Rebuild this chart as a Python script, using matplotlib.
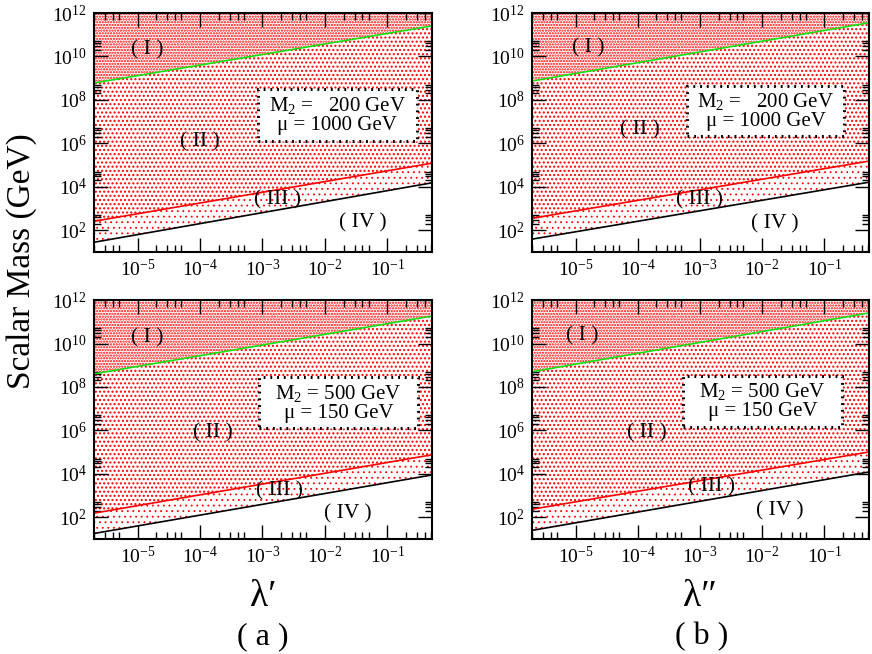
import matplotlib
matplotlib.use('Agg')
import matplotlib.pyplot as plt
from matplotlib.ticker import FixedLocator, NullFormatter, LogFormatterSciNotation
from matplotlib.patches import Rectangle

plt.rcParams['font.family'] = ['Liberation Serif', 'DejaVu Serif']
plt.rcParams['mathtext.fontset'] = 'custom'
plt.rcParams['mathtext.rm'] = 'Liberation Serif'
plt.rcParams['mathtext.it'] = 'Liberation Serif:italic'
plt.rcParams['mathtext.bf'] = 'Liberation Serif:bold'

# lambda range spanned by the boundary lines
lam = [2e-6, 0.5]
mass_top = 1e12

# boundary lines (scalar mass at both ends of lam), one set per panel
# (a) lambda', M2 = 200, mu = 1000
green_a1 = [6e8, 2.5e11]
red_a1 = [260, 1.2e5]
black_a1 = [28, 1.5e4]
# (b) lambda'', M2 = 200, mu = 1000
green_b1 = [7.4e8, 3.5e11]
red_b1 = [355, 1.5e5]
black_b1 = [39, 1.6e4]
# (a) lambda', M2 = 500, mu = 150
green_a2 = [4e8, 1.8e11]
red_a2 = [155, 7.4e4]
black_a2 = [18, 8.7e3]
# (b) lambda'', M2 = 500, mu = 150
green_b2 = [5e8, 2.5e11]
red_b2 = [235, 1.0e5]
black_b2 = [25, 1.2e4]

region_names = ['( I )', '( II )', '( III )', '( IV )']
box_200 = '$\\mathrm{M}_2$ =   200 GeV\nμ = 1000 GeV'
box_500 = '$\\mathrm{M}_2$ = 500 GeV\nμ = 150 GeV'

x_major = [1e-5, 1e-4, 1e-3, 1e-2, 1e-1]
y_major = [1e2, 1e4, 1e6, 1e8, 1e10, 1e12]


fig = plt.figure(figsize=(8.72, 6.54), dpi=100)

# axes rectangles in figure fraction
ax_a1 = fig.add_axes([0.1078, 0.6147, 0.3876, 0.3654])
ax_b1 = fig.add_axes([0.6101, 0.6147, 0.3865, 0.3654])
ax_a2 = fig.add_axes([0.1078, 0.1758, 0.3876, 0.3654])
ax_b2 = fig.add_axes([0.6101, 0.1758, 0.3865, 0.3654])

panels = [
    (ax_a1, green_a1, red_a1, black_a1, box_200, [0.485, 0.464, 0.470, 0.218],
     [(1.45e-5, 2.0e10), (1.0e-4, 1.15e6), (1.75e-3, 2.4e3), (4.1e-2, 2.3e2)]),
    (ax_b1, green_b1, red_b1, black_b1, box_200, [0.460, 0.485, 0.466, 0.210],
     [(1.6e-5, 2.4e10), (1.1e-4, 4.0e6), (1.0e-3, 2.4e3), (1.6e-2, 1.9e2)]),
    (ax_a2, green_a2, red_a2, black_a2, box_500, [0.488, 0.464, 0.471, 0.214],
     [(1.45e-5, 1.8e10), (1.6e-4, 7.4e5), (1.9e-3, 1.6e3), (2.3e-2, 1.5e2)]),
    (ax_b2, green_b2, red_b2, black_b2, box_500, [0.448, 0.469, 0.472, 0.213],
     [(1.3e-5, 2.2e10), (1.4e-4, 7.4e5), (1.55e-3, 2.5e3), (1.95e-2, 2.0e2)]),
]

for ax, green, red, black, box_text, box, label_pos in panels:
    ax.set_xscale('log')
    ax.set_yscale('log')

    # dotted fills: (I) above green, (II) between red and green, (III) between black and red
    plt.rcParams['hatch.linewidth'] = 1.1
    ax.fill_between(lam, green, mass_top, facecolor='none', edgecolor='red',
                    hatch='......', linewidth=0, zorder=1)
    plt.rcParams['hatch.linewidth'] = 1.0
    ax.fill_between(lam, red, green, facecolor='none', edgecolor='red',
                    hatch='....', linewidth=0, zorder=1)
    plt.rcParams['hatch.linewidth'] = 0.6
    ax.fill_between(lam, black, red, facecolor='none', edgecolor='red',
                    hatch='...', linewidth=0, zorder=1)

    ax.plot(lam, green, color='#11e011', lw=1.2, zorder=3)
    ax.plot(lam, red, color='red', lw=1.2, zorder=3)
    ax.plot(lam, black, color='black', lw=1.2, zorder=3)

    for name, (tx, ty) in zip(region_names, label_pos):
        ax.text(tx, ty, name, fontsize=15.5, ha='center', va='center', zorder=5)

    ax.add_patch(Rectangle((box[0], box[1]), box[2], box[3], transform=ax.transAxes,
                           facecolor='white', edgecolor='black', linewidth=2.2,
                           linestyle=(0, (0.6, 1.6)), zorder=4))
    ax.text(box[0] + box[2] / 2, box[1] + box[3] / 2, box_text, transform=ax.transAxes,
            fontsize=15, ha='center', va='center', linespacing=1.0, zorder=5)

    ax.set_xlim(lam[0], 0.52)
    ax.set_ylim(10, mass_top)

    ax.xaxis.set_major_locator(FixedLocator(x_major))
    ax.yaxis.set_major_locator(FixedLocator(y_major))
    ax.xaxis.set_major_formatter(LogFormatterSciNotation())
    ax.yaxis.set_major_formatter(LogFormatterSciNotation())
    ax.xaxis.set_minor_locator(FixedLocator([k * 10.0 ** n for n in range(-6, 0) for k in (2, 3, 4, 5)]))
    ax.yaxis.set_minor_locator(FixedLocator([k * 10.0 ** n for n in range(2, 12, 2) for k in (2, 3, 4, 5)]))
    ax.xaxis.set_minor_formatter(NullFormatter())
    ax.yaxis.set_minor_formatter(NullFormatter())

    ax.tick_params(which='both', direction='in', top=True, right=True, width=1.0,
                   labelsize=14, pad=5)
    ax.tick_params(which='major', length=10)
    ax.tick_params(which='minor', length=5)
    for sp in ax.spines.values():
        sp.set_linewidth(1.5)
        sp.set_zorder(6)

fig.text(0.025, 0.6, 'Scalar Mass (GeV)', rotation=90, fontsize=24, ha='center', va='center')
fig.text(0.302, 0.087, 'λ′', fontsize=27, ha='center', va='center')
fig.text(0.301, 0.026, '( a )', fontsize=23, ha='center', va='center')
fig.text(0.803, 0.087, 'λ″', fontsize=27, ha='center', va='center')
fig.text(0.805, 0.026, '( b )', fontsize=23, ha='center', va='center')

fig.savefig('out.png', dpi=100)
